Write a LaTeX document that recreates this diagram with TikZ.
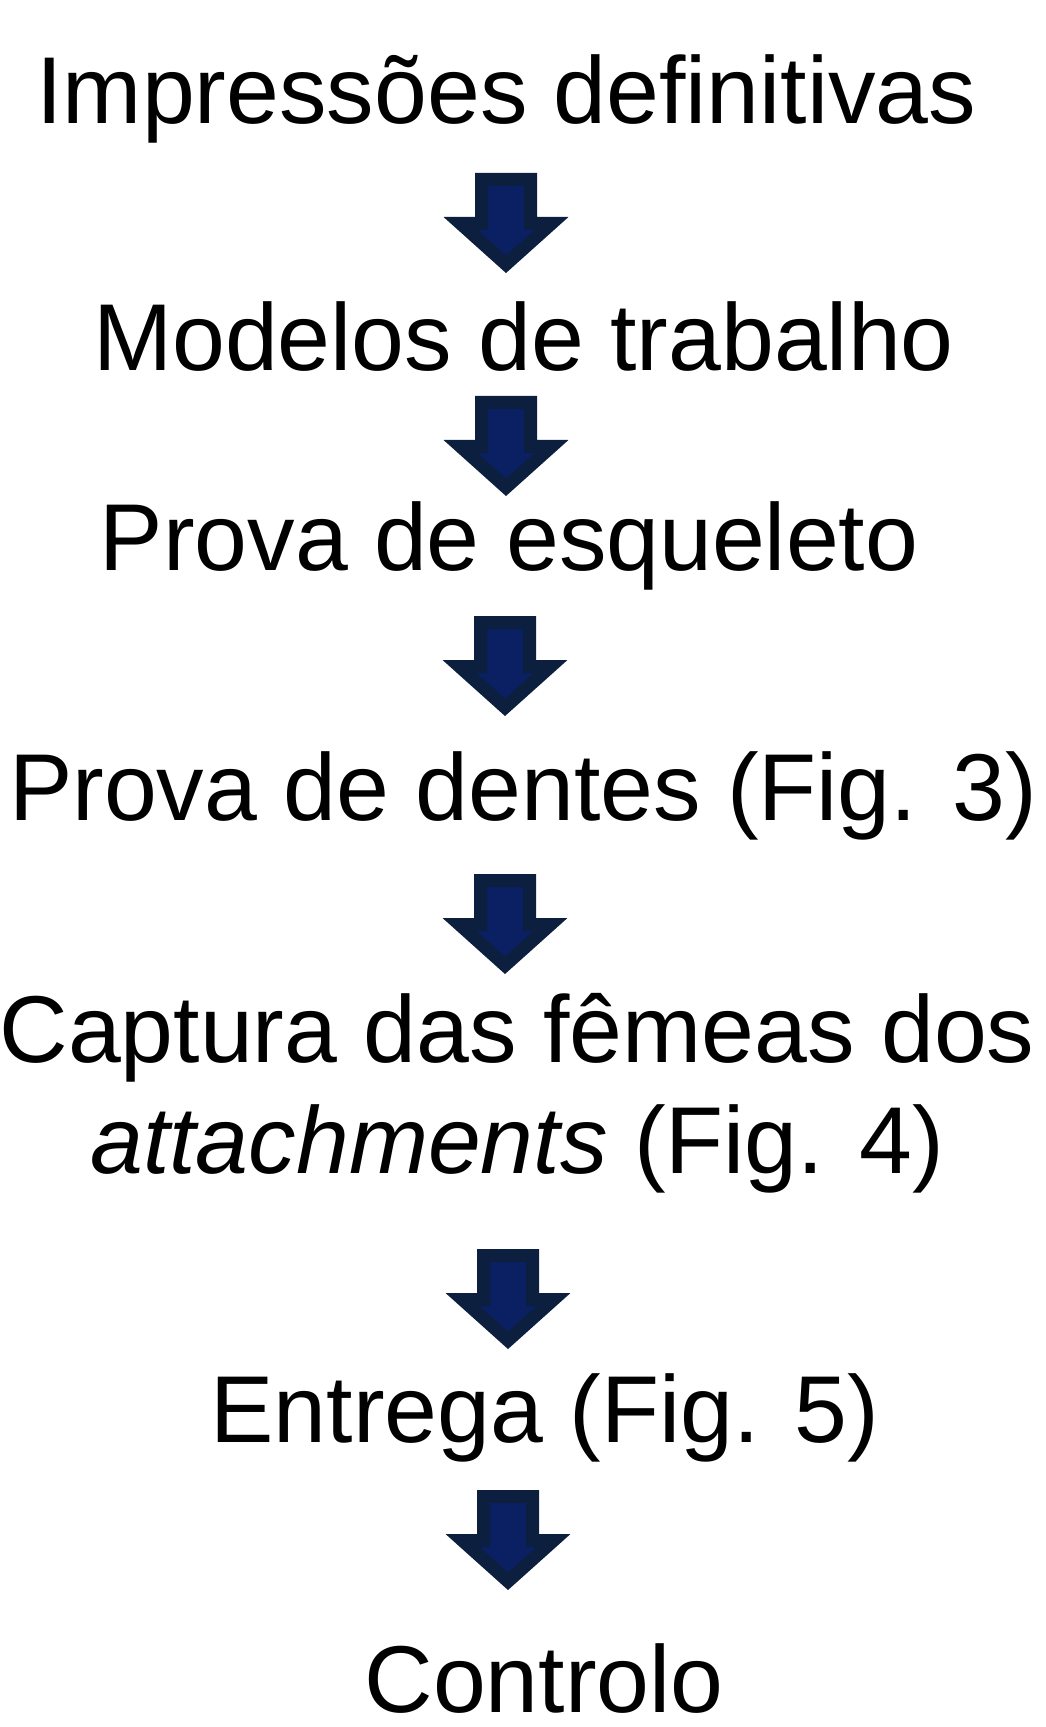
\documentclass[tikz,border=0pt]{standalone}
\usepackage{fontspec}
\setmainfont{Liberation Sans}
\usetikzlibrary{positioning}

\definecolor{arrowfill}{HTML}{0A2062}
\definecolor{arrowedge}{HTML}{0C1F3E}

% block arrow hanging down from a named coordinate (its top centre)
\newcommand{\downblock}[1]{%
  \begin{scope}[shift={(#1)}]
    \draw[blockarrow] (-24.5,6.5) -- (24.5,6.5) -- (24.5,50.5) -- (45.5,50.5)
      -- (0,91.3) -- (-45.5,50.5) -- (-24.5,50.5) -- cycle;
  \end{scope}}

\begin{document}
\begin{tikzpicture}[
    x=0.5pt, y=-0.5pt,
    stage/.style={anchor=base,inner sep=0pt,font=\fontsize{47.5}{55.5}\selectfont},
    blockarrow/.style={draw=arrowedge,fill=arrowfill,line width=6.5pt,line join=miter}]

    \useasboundingbox (0,0) rectangle (1045,1727);

    % Steps
    \node[stage] (impr) at (506.5,124) {Impressões definitivas};
    \node[stage] (modelos) at (523.5,371) {Modelos de trabalho};
    \node[stage] (esqueleto) at (509,570) {Prova de esqueleto};
    \node[stage] (dentes) at (523,820) {Prova de dentes (Fig. 3)};
    % two lines: base is the last line
    \node[stage, align=center] (captura) at (517,1173) {Captura das fêmeas dos\\\textit{attachments} (Fig. 4)};
    \node[stage] (entrega) at (545,1442) {Entrega (Fig. 5)};
    \node[stage] (controlo) at (544,1712) {Controlo};

    % Arrows between the steps
    \coordinate (a1) at (506,173);
    \coordinate (a2) at (506,396);
    \coordinate (a3) at (505,616);
    \coordinate (a4) at (505,874);
    \coordinate (a5) at (508,1249);
    \coordinate (a6) at (508,1490);
    \foreach \a in {a1,a2,a3,a4,a5,a6}
        \downblock{\a};
\end{tikzpicture}
\end{document}
